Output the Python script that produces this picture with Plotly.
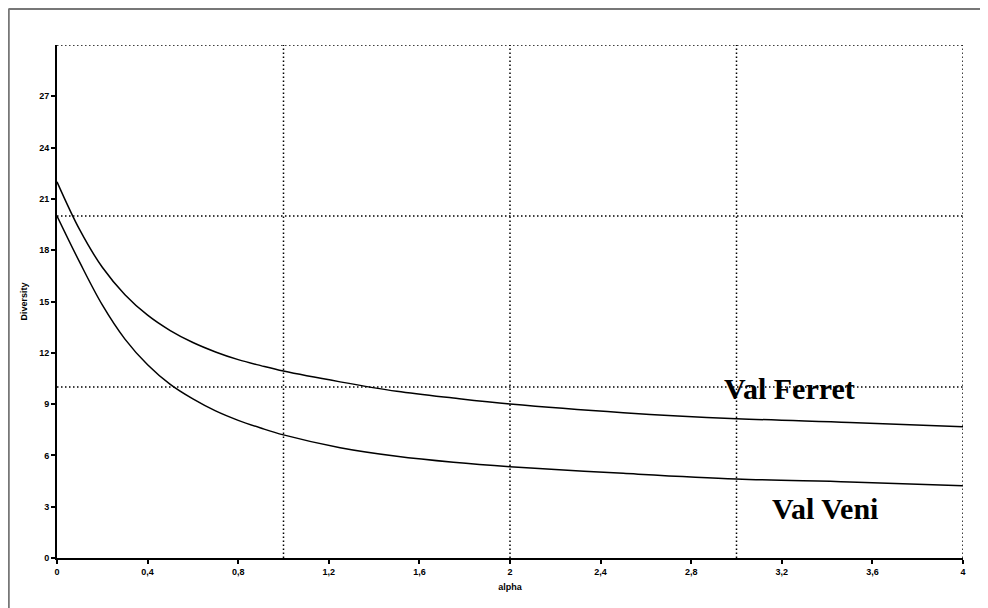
import plotly.graph_objects as go

alpha = [0, 0.1, 0.2, 0.3, 0.4, 0.5, 0.6, 0.7, 0.8, 0.9, 1.0, 1.25, 1.5, 1.75, 2.0, 2.5, 3.0, 3.5, 4.0]
val_ferret = [22.0, 19.2, 17.0, 15.4, 14.2, 13.3, 12.6, 12.05, 11.6, 11.25, 10.93, 10.3, 9.75, 9.35, 9.0, 8.5, 8.15, 7.93, 7.68]
val_veni = [20.0, 17.3, 14.8, 12.8, 11.3, 10.15, 9.3, 8.6, 8.05, 7.6, 7.2, 6.45, 5.95, 5.6, 5.34, 4.95, 4.62, 4.45, 4.23]

x_ticks = [0, 0.4, 0.8, 1.2, 1.6, 2.0, 2.4, 2.8, 3.2, 3.6, 4.0]
x_ticklabels = ["0", "0,4", "0,8", "1,2", "1,6", "2", "2,4", "2,8", "3,2", "3,6", "4"]
y_ticks = [0, 3, 6, 9, 12, 15, 18, 21, 24, 27]
grid_x = [1, 2, 3, 4]
grid_y = [10, 20, 30]

fig = go.Figure()
fig.add_trace(go.Scatter(x=alpha, y=val_ferret, mode="lines", line=dict(color="black", width=1.5, shape="spline"), showlegend=False))
fig.add_trace(go.Scatter(x=alpha, y=val_veni, mode="lines", line=dict(color="black", width=1.5, shape="spline"), showlegend=False))

dot = "1.5px,2.5px"
shapes = []
for gx in grid_x:
    shapes.append(dict(type="line", xref="x", yref="y", x0=gx, x1=gx, y0=0, y1=30,
                       line=dict(color="black", width=1.5, dash=dot), layer="below"))
for gy in grid_y:
    shapes.append(dict(type="line", xref="x", yref="y", x0=0, x1=4, y0=gy, y1=gy,
                       line=dict(color="black", width=1.5, dash=dot), layer="below"))
# outer grey frame (left and top)
shapes.append(dict(type="line", xref="paper", yref="paper", x0=-0.0535, x1=-0.0535, y0=-0.12, y1=1.0705,
                   line=dict(color="#777777", width=2.5)))
shapes.append(dict(type="line", xref="paper", yref="paper", x0=-0.0535, x1=1.05, y0=1.0705, y1=1.0705,
                   line=dict(color="#777777", width=2.5)))

tick_font = dict(family="Liberation Sans, Arial", size=9, color="black", weight="bold")

fig.update_layout(
    width=980, height=600,
    margin=dict(l=49, r=25, t=37, b=50),
    paper_bgcolor="white", plot_bgcolor="white",
    shapes=shapes,
    xaxis=dict(range=[0, 4], tickvals=x_ticks, ticktext=x_ticklabels, showgrid=False, zeroline=False,
               showline=True, linecolor="black", linewidth=2, ticks="outside", ticklen=4, tickwidth=1.5,
               tickcolor="black", tickfont=tick_font,
               title=dict(text="alpha", font=tick_font, standoff=8)),
    yaxis=dict(range=[0, 30], tickvals=y_ticks, showgrid=False, zeroline=False,
               showline=True, linecolor="black", linewidth=2, ticks="outside", ticklen=4, tickwidth=1.5,
               tickcolor="black", tickfont=tick_font,
               title=dict(text="Diversity", font=tick_font, standoff=10)),
    annotations=[
        dict(x=3.234, y=9.94, xref="x", yref="y", text="<b>Val Ferret</b>", showarrow=False,
             font=dict(family="Liberation Serif, Times New Roman", size=30, color="black")),
        dict(x=3.389, y=2.87, xref="x", yref="y", text="<b>Val Veni</b>", showarrow=False,
             font=dict(family="Liberation Serif, Times New Roman", size=30, color="black")),
    ],
)

fig.write_html("out.html")
